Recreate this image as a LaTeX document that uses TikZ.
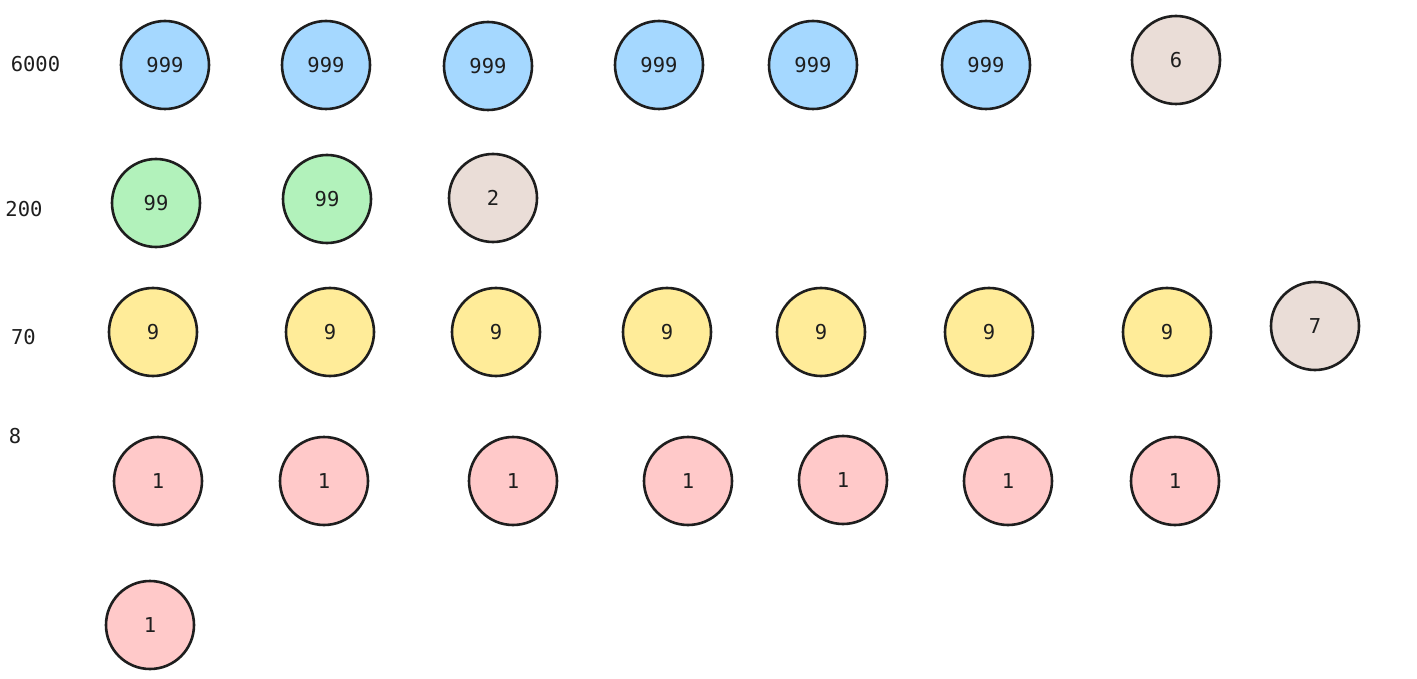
\documentclass[tikz,border=0pt]{standalone}
\usepackage{fontspec}
\setmainfont{DejaVu Sans Mono}
\definecolor{ink}{HTML}{1E1E1E}
\definecolor{cblue}{HTML}{A5D8FF}
\definecolor{cgreen}{HTML}{B2F2BB}
\definecolor{cyellow}{HTML}{FFEC99}
\definecolor{cpink}{HTML}{FFC9C9}
\definecolor{cbeige}{HTML}{EADDD7}
\begin{document}
\begin{tikzpicture}[x=1pt,y=-1pt,
  ball/.style={circle,minimum size=88pt,inner sep=0pt,fill=#1,draw=ink,line width=2.6pt,
    text=ink,font=\fontsize{20.5}{20.5}\selectfont},
  rowlabel/.style={text=ink,font=\fontsize{20.5}{20.5}\selectfont,inner sep=0pt}]
\useasboundingbox[fill=white] (0,0) rectangle (1417,679);
% row labels
\node[rowlabel] (l6000) at (35.5,64) {6000};
\node[rowlabel] (l200) at (24,209) {200};
\node[rowlabel] (l70) at (23.5,337) {70};
\node[rowlabel] (l8) at (15,436) {8};
% row 1
\node[ball=cblue] (a1) at (165,65) {999};
\node[ball=cblue] (a2) at (326,65) {999};
\node[ball=cblue] (a3) at (488,66) {999};
\node[ball=cblue] (a4) at (659,65) {999};
\node[ball=cblue] (a5) at (813,65) {999};
\node[ball=cblue] (a6) at (986,65) {999};
\node[ball=cbeige] (a7) at (1176,60) {6};
% row 2
\node[ball=cgreen] (b1) at (156,203) {99};
\node[ball=cgreen] (b2) at (327,199) {99};
\node[ball=cbeige] (b3) at (493,198) {2};
% row 3
\node[ball=cyellow] (c1) at (153,332) {9};
\node[ball=cyellow] (c2) at (330,332) {9};
\node[ball=cyellow] (c3) at (496,332) {9};
\node[ball=cyellow] (c4) at (667,332) {9};
\node[ball=cyellow] (c5) at (821,332) {9};
\node[ball=cyellow] (c6) at (989,332) {9};
\node[ball=cyellow] (c7) at (1167,332) {9};
\node[ball=cbeige] (c8) at (1315,326) {7};
% row 4
\node[ball=cpink] (d1) at (158,481) {1};
\node[ball=cpink] (d2) at (324,481) {1};
\node[ball=cpink] (d3) at (513,481) {1};
\node[ball=cpink] (d4) at (688,481) {1};
\node[ball=cpink] (d5) at (843,480) {1};
\node[ball=cpink] (d6) at (1008,481) {1};
\node[ball=cpink] (d7) at (1175,481) {1};
% row 5
\node[ball=cpink] (e1) at (150,625) {1};
\end{tikzpicture}
\end{document}
